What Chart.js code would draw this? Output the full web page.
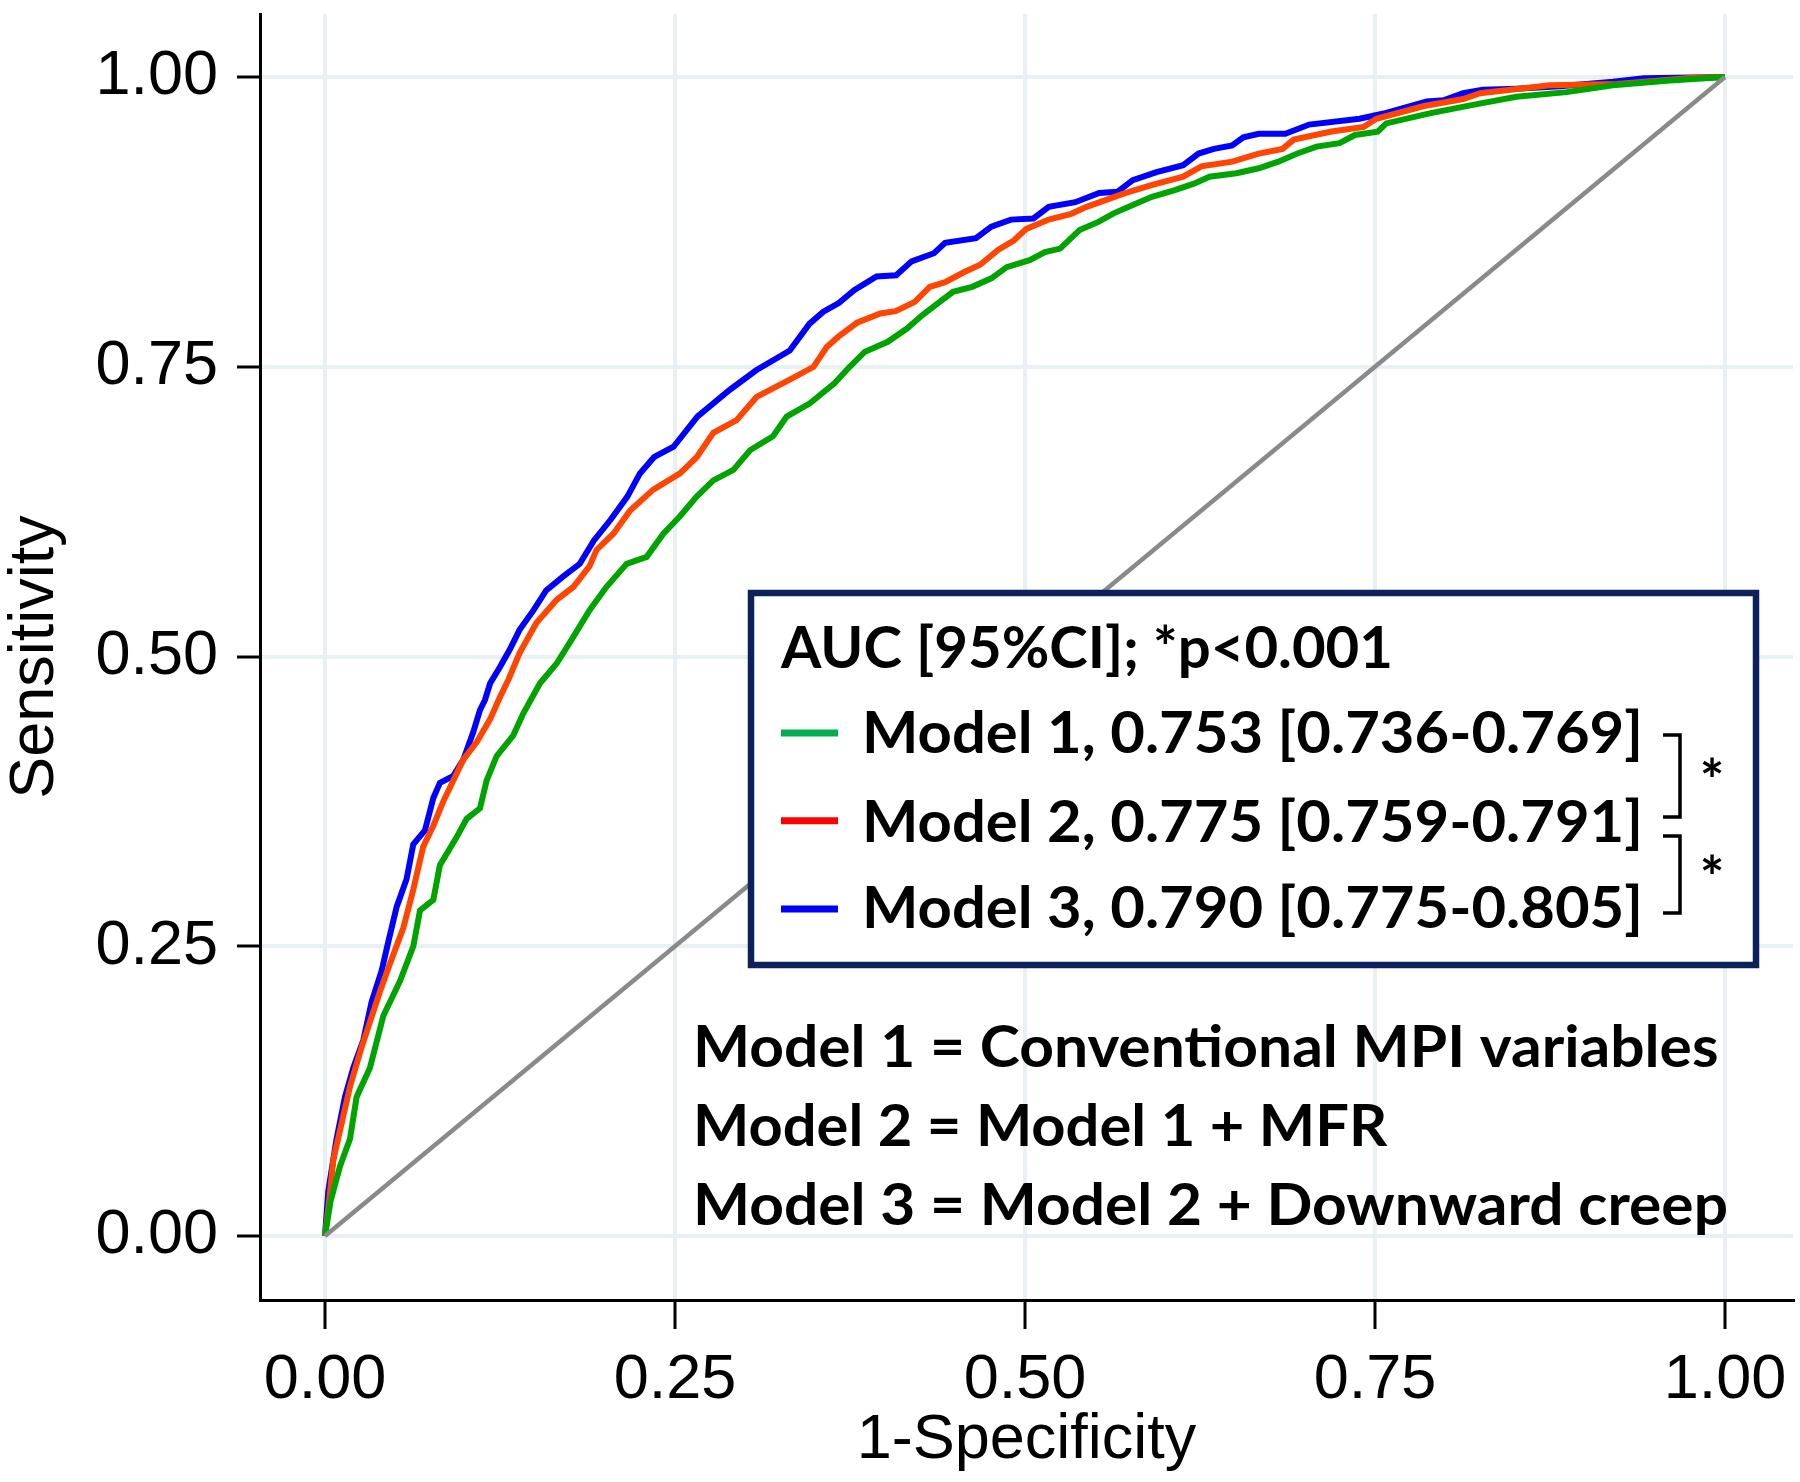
<!DOCTYPE html>
<html><head><meta charset="utf-8">
<script src="https://cdn.jsdelivr.net/npm/chart.js@4.4.1/dist/chart.umd.min.js"></script>
<style>html,body{margin:0;padding:0;background:#fff;}</style>
</head><body>
<canvas id="c" width="1800" height="1482" style="display:block;width:1800px;height:1482px"></canvas>
<script>
// ---- data (1-Specificity, Sensitivity) ----
const model1Points = [[0,0],[0.004,0.03],[0.0107,0.060],[0.0179,0.084],[0.0226,0.120],[0.0321,0.145],[0.0417,0.190],[0.0536,0.220],[0.0631,0.250],[0.0679,0.281],[0.0774,0.290],[0.0821,0.320],[0.094,0.344],[0.1012,0.360],[0.1107,0.369],[0.1155,0.393],[0.1226,0.414],[0.1345,0.432],[0.1417,0.451],[0.1536,0.477],[0.1655,0.494],[0.1774,0.517],[0.189,0.540],[0.201,0.560],[0.2155,0.580],[0.2298,0.586],[0.2417,0.606],[0.2536,0.621],[0.2655,0.638],[0.2774,0.652],[0.2917,0.661],[0.3036,0.678],[0.320,0.690],[0.3298,0.707],[0.3464,0.7185],[0.3639,0.7357],[0.3748,0.750],[0.3857,0.763],[0.402,0.7716],[0.4157,0.783],[0.4268,0.7946],[0.4377,0.8047],[0.4486,0.8147],[0.4623,0.819],[0.476,0.8263],[0.487,0.836],[0.5033,0.842],[0.5143,0.849],[0.5251,0.852],[0.539,0.868],[0.5525,0.875],[0.5634,0.8824],[0.577,0.8896],[0.5907,0.8967],[0.607,0.9025],[0.6207,0.908],[0.6318,0.914],[0.651,0.917],[0.667,0.9213],[0.681,0.927],[0.6946,0.934],[0.7083,0.94],[0.7247,0.943],[0.7357,0.950],[0.752,0.9528],[0.758,0.960],[0.789,0.9687],[0.820,0.976],[0.851,0.983],[0.887,0.987],[0.920,0.993],[0.9607,0.997],[1,1]];
const model2Points = [[0,0],[0.003,0.03],[0.006,0.066],[0.0179,0.129],[0.0262,0.163],[0.0393,0.211],[0.0464,0.235],[0.056,0.266],[0.0631,0.299],[0.0702,0.336],[0.0774,0.354],[0.0845,0.375],[0.0917,0.393],[0.0988,0.411],[0.1083,0.426],[0.118,0.446],[0.125,0.465],[0.131,0.480],[0.139,0.503],[0.151,0.529],[0.1655,0.549],[0.1774,0.560],[0.189,0.578],[0.194,0.592],[0.206,0.606],[0.218,0.626],[0.2345,0.644],[0.2536,0.658],[0.2655,0.672],[0.2774,0.693],[0.294,0.704],[0.3083,0.724],[0.332,0.739],[0.349,0.750],[0.3584,0.767],[0.3667,0.776],[0.380,0.788],[0.3967,0.796],[0.4076,0.798],[0.4213,0.806],[0.432,0.819],[0.443,0.823],[0.457,0.832],[0.468,0.838],[0.481,0.851],[0.492,0.859],[0.501,0.869],[0.517,0.877],[0.533,0.882],[0.544,0.888],[0.558,0.894],[0.572,0.900],[0.591,0.907],[0.613,0.914],[0.626,0.923],[0.648,0.927],[0.667,0.934],[0.684,0.938],[0.692,0.946],[0.719,0.953],[0.742,0.957],[0.751,0.964],[0.785,0.975],[0.813,0.981],[0.825,0.986],[0.875,0.993],[0.923,0.994],[0.977,0.9995],[1,1]];
const model3Points = [[0,0],[0.0024,0.039],[0.0083,0.084],[0.0143,0.120],[0.0202,0.145],[0.0274,0.169],[0.0333,0.202],[0.0405,0.229],[0.0445,0.250],[0.0512,0.284],[0.0583,0.308],[0.0631,0.338],[0.0714,0.350],[0.0774,0.378],[0.0821,0.391],[0.0917,0.397],[0.0988,0.411],[0.106,0.435],[0.1107,0.4538],[0.1143,0.4625],[0.118,0.4769],[0.125,0.491],[0.132,0.506],[0.139,0.523],[0.149,0.540],[0.158,0.557],[0.170,0.569],[0.182,0.580],[0.192,0.600],[0.204,0.618],[0.216,0.638],[0.225,0.658],[0.235,0.672],[0.249,0.681],[0.266,0.707],[0.289,0.730],[0.308,0.747],[0.332,0.764],[0.346,0.787],[0.356,0.7975],[0.367,0.805],[0.378,0.816],[0.394,0.828],[0.408,0.829],[0.419,0.841],[0.435,0.848],[0.443,0.857],[0.465,0.861],[0.476,0.871],[0.490,0.877],[0.506,0.878],[0.517,0.888],[0.536,0.892],[0.553,0.900],[0.566,0.901],[0.577,0.911],[0.594,0.918],[0.613,0.924],[0.624,0.934],[0.635,0.938],[0.648,0.941],[0.656,0.948],[0.667,0.951],[0.686,0.951],[0.703,0.959],[0.739,0.964],[0.758,0.969],[0.787,0.979],[0.799,0.980],[0.813,0.986],[0.827,0.989],[0.851,0.990],[0.882,0.992],[0.920,0.996],[0.942,0.999],[1,1]];
const referencePoints = [[0,0],[1,1]];

const tickValues = [0, 0.25, 0.5, 0.75, 1];
const tickLabels = ['0.00', '0.25', '0.50', '0.75', '1.00'];
const xTitle = '1-Specificity';
const yTitle = 'Sensitivity';
const legendTitle = 'AUC [95%CI]; *p<0.001';
const legendLabels = ['Model 1, 0.753 [0.736-0.769]', 'Model 2, 0.775 [0.759-0.791]', 'Model 3, 0.790 [0.775-0.805]'];
const noteLines = ['Model 1 = Conventional MPI variables', 'Model 2 = Model 1 + MFR', 'Model 3 = Model 2 + Downward creep'];

// ---- styles ----
const curveColors = ['#00a400', '#ff4500', '#0000ff'];
const swatchColors = ['#00b050', '#ff0000', '#0000ff'];
const toXY = pts => pts.map(p => ({x: p[0], y: p[1]}));
const tickFont = {family: 'Liberation Sans, Arial, sans-serif', size: 63};
const titleFont = {family: 'Liberation Sans, Arial, sans-serif', size: 63, lineHeight: 1};
const boldFont = 'bold 58px Lato, "Open Sans", sans-serif';

function fitText(ctx, text, x, y, w) {
  ctx.font = boldFont;
  const m = ctx.measureText(text).width;
  ctx.save();
  ctx.translate(x, y);
  ctx.scale(w / m, 1);
  ctx.textAlign = 'left';
  ctx.textBaseline = 'alphabetic';
  ctx.fillStyle = '#000';
  ctx.fillText(text, 0, 0);
  ctx.restore();
}

const overlay = {
  id: 'overlay',
  afterDatasetsDraw(chart) {
    const ctx = chart.ctx;
    ctx.save();
    // legend box
    ctx.fillStyle = '#fff';
    ctx.fillRect(751, 593, 1005, 372);
    ctx.strokeStyle = '#0c215c';
    ctx.lineWidth = 6.5;
    ctx.strokeRect(751, 593, 1005, 372);
    fitText(ctx, legendTitle, 781, 668, 612);
    const rowBase = [753.3, 841.7, 928.3];
    const swatchY = [733, 820.7, 909];
    legendLabels.forEach((t, i) => {
      fitText(ctx, t, 862, rowBase[i], 781);
      ctx.strokeStyle = swatchColors[i];
      ctx.lineWidth = 7;
      ctx.lineCap = 'butt';
      ctx.beginPath(); ctx.moveTo(781, swatchY[i]); ctx.lineTo(838, swatchY[i]); ctx.stroke();
    });
    // brackets
    ctx.strokeStyle = '#000';
    ctx.lineWidth = 3.5;
    ctx.lineJoin = 'miter';
    [[735, 817], [836, 913]].forEach(([a, b]) => {
      ctx.beginPath();
      ctx.moveTo(1663, a); ctx.lineTo(1680, a); ctx.lineTo(1680, b); ctx.lineTo(1663, b);
      ctx.stroke();
    });
    ctx.font = boldFont;
    ctx.fillStyle = '#000';
    ctx.textAlign = 'center';
    ctx.textBaseline = 'alphabetic';
    ctx.fillText('*', 1712, 801);
    ctx.fillText('*', 1712, 898);
    // notes
    const noteBase = [1067.3, 1145.7, 1225];
    const noteW = [1025.5, 694.3, 1035];
    noteLines.forEach((t, i) => fitText(ctx, t, 693, noteBase[i], noteW[i]));
    ctx.restore();
  }
};

function axis(min, max, tickLen, pad, title, titlePad, fit) {
  return {
    type: 'linear', min, max,
    afterBuildTicks: s => { s.ticks = tickValues.map(v => ({value: v})); },
    afterFit: s => { fit(s); s.paddingTop = 0; s.paddingBottom = 0; s.paddingLeft = 0; s.paddingRight = 0; },
    ticks: {callback: (v, i) => tickLabels[i], font: tickFont, color: '#000', padding: pad, maxRotation: 0, autoSkip: false},
    grid: {color: '#e8f0f3', lineWidth: 4, tickColor: '#000', tickLength: tickLen, tickWidth: 3},
    border: {display: true, color: '#000', width: 3},
    title: {display: true, text: title, font: titleFont, color: '#000', padding: titlePad}
  };
}

const ds = (pts, color, w) => ({data: toXY(pts), borderColor: color, borderWidth: w, showLine: true, pointRadius: 0, fill: false, tension: 0});

function build() {
  new Chart(document.getElementById('c'), {
    type: 'scatter',
    data: {datasets: [
      ds(referencePoints, '#8a8a8a', 4.5),
      ds(model1Points, curveColors[0], 6),
      ds(model2Points, curveColors[1], 6),
      ds(model3Points, curveColors[2], 6)
    ]},
    options: {
      responsive: false, animation: false, devicePixelRatio: 1,
      layout: {padding: {top: 14, right: 7, left: 0, bottom: 0}},
      plugins: {legend: {display: false}, tooltip: {enabled: false}},
      scales: {
        x: axis(-0.0464, 1.0486, 29, 14, xTitle, {top: 0, bottom: 10}, s => { s.height = 182; }),
        y: axis(-0.0552, 1.0544, 23, 19, yTitle, {top: 4, bottom: 0}, s => { s.width = 260; })
      }
    },
    plugins: [overlay]
  });
}
if (document.fonts && document.fonts.load) {
  Promise.all([document.fonts.load(boldFont), document.fonts.load('63px "Liberation Sans"')]).then(build, build);
} else build();
</script>
</body></html>
